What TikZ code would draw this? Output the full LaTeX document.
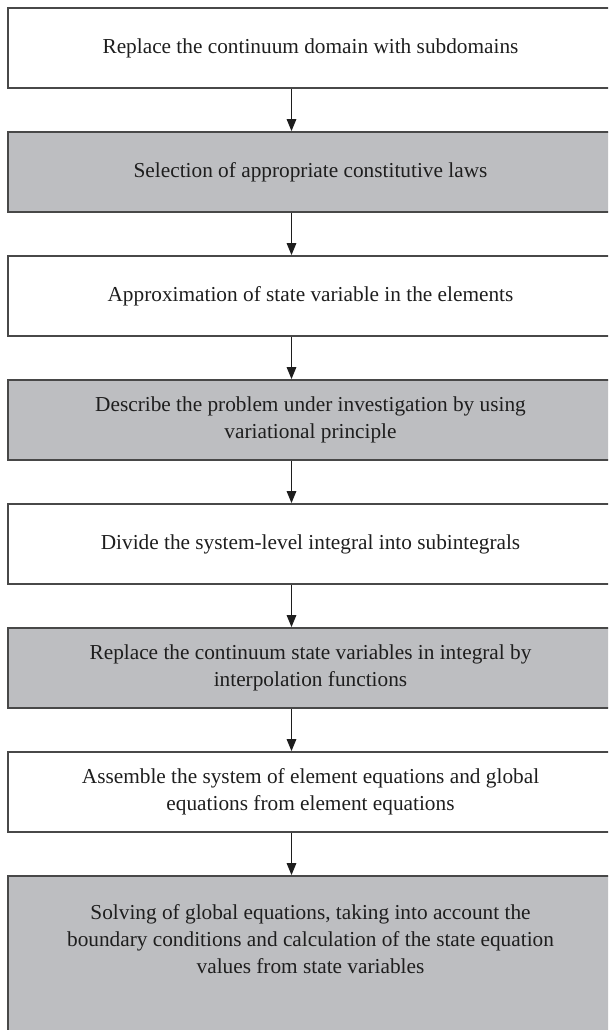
\documentclass[tikz,border=0pt]{standalone}
\usepackage{fontspec}
\setmainfont{Liberation Serif}
\usetikzlibrary{positioning,arrows.meta}
\definecolor{stepgray}{RGB}{189,190,193}
\definecolor{edge}{RGB}{72,72,72}
\definecolor{ink}{RGB}{30,30,30}

\begin{document}
\begin{tikzpicture}[>={Triangle[length=12pt,width=9.5pt]},
    stage/.style={draw=edge,line width=1.8pt,align=center,text=ink,inner sep=0pt,
                  font=\fontsize{21.3}{27}\selectfont,minimum width=605pt,minimum height=80pt},
    shaded/.style={stage,fill=stepgray},
    link/.style={->,draw=ink,line width=1.5pt}]
    \useasboundingbox (0,0) rectangle (608pt,-1030pt);
    \clip (0,0) rectangle (608pt,-1030pt);
    \node[stage] (s1) at (310.5pt,-48pt) {Replace the continuum domain with subdomains};
    \node[shaded,below=42.2pt of s1] (s2) {Selection of appropriate constitutive laws};
    \node[stage,below=42.2pt of s2] (s3) {Approximation of state variable in the elements};
    \node[shaded,below=42.2pt of s3] (s4) {Describe the problem under investigation by using\\variational principle};
    \node[stage,below=42.2pt of s4] (s5) {Divide the system-level integral into subintegrals};
    \node[shaded,below=42.2pt of s5] (s6) {Replace the continuum state variables in integral by\\interpolation functions};
    \node[stage,below=42.2pt of s6] (s7) {Assemble the system of element equations and global\\equations from element equations};
    % last box runs off the bottom edge, text kept near its top
    \node[shaded,below=42.2pt of s7,inner ysep=28pt,text depth=40pt] (s8) {Solving of global equations, taking into account the\\boundary conditions and calculation of the state equation\\values from state variables};
    % arrows run a little left of the box centres
    \draw[link] ([xshift=-19pt]s1.south)--([xshift=-19pt]s2.north);
    \draw[link] ([xshift=-19pt]s2.south)--([xshift=-19pt]s3.north);
    \draw[link] ([xshift=-19pt]s3.south)--([xshift=-19pt]s4.north);
    \draw[link] ([xshift=-19pt]s4.south)--([xshift=-19pt]s5.north);
    \draw[link] ([xshift=-19pt]s5.south)--([xshift=-19pt]s6.north);
    \draw[link] ([xshift=-19pt]s6.south)--([xshift=-19pt]s7.north);
    \draw[link] ([xshift=-19pt]s7.south)--([xshift=-19pt]s8.north);
\end{tikzpicture}
\end{document}
